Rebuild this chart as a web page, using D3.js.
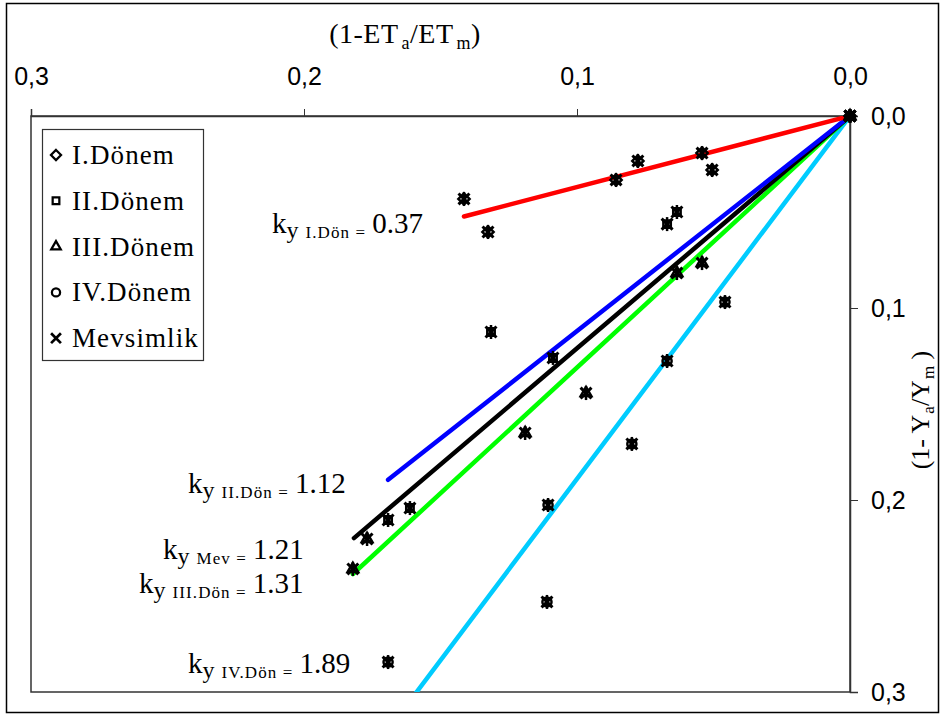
<!DOCTYPE html>
<html><head><meta charset="utf-8">
<script src="https://cdn.jsdelivr.net/npm/d3@7"></script>
<style>body{margin:0;background:#fff}svg{display:block}</style>
</head><body>
<script>
// ---- data ----
const xTicks = [0.3, 0.2, 0.1, 0.0];
const yTicks = [0.0, 0.1, 0.2, 0.3];
const xTickLabels = ["0,3", "0,2", "0,1", "0,0"];
const yTickLabels = ["0,0", "0,1", "0,2", "0,3"];

const seriesNames = ["I.Dönem", "II.Dönem", "III.Dönem", "IV.Dönem", "Mevsimlik"];

const donem1X = [0, 0.1414, 0.1326, 0.0857, 0.0777, 0.0542, 0.0505];
const donem1Y = [0, 0.0432, 0.0604, 0.0333, 0.0234, 0.0193, 0.0281];
const donem2X = [0, 0.0670, 0.0634, 0.1315, 0.1088, 0.1612, 0.1692];
const donem2Y = [0, 0.0563, 0.0500, 0.1125, 0.1260, 0.2042, 0.2104];
const donem3X = [0, 0.0634, 0.0542, 0.0967, 0.1190, 0.1769, 0.1821];
const donem3Y = [0, 0.0818, 0.0766, 0.1443, 0.1651, 0.2203, 0.2359];
const donem4X = [0, 0.0458, 0.0670, 0.0799, 0.1106, 0.1110, 0.1692];
const donem4Y = [0, 0.0969, 0.1276, 0.1708, 0.2026, 0.2531, 0.2844];
const mevsimX = [].concat(donem1X, donem2X, donem3X, donem4X);
const mevsimY = [].concat(donem1Y, donem2Y, donem3Y, donem4Y);

// regression lines (through origin): ky and x-extent
const lineNames = ["IV.Dön", "III.Dön", "Mev", "II.Dön", "I.Dön"];
const kyValues = [1.89, 1.31, 1.21, 1.12, 0.37];
const lineXEnd = [0.1692, 0.1821, 0.1817, 0.1692, 0.1414];
const lineColors = ["#00ccff", "#00ff00", "#000000", "#0000ff", "#ff0000"];

// ---- layout ----
const W = 942, H = 716;
const svg = d3.select("body").append("svg").attr("width", W).attr("height", H);
const serif = "'Liberation Serif','Times New Roman',serif";
const sans = "'Liberation Sans',Arial,sans-serif";

const x = d3.scaleLinear().domain([0.3, 0]).range([31, 850]);
const y = d3.scaleLinear().domain([0, 0.3]).range([116, 692]);

// outer frame
svg.append("rect").attr("x", 6.5).attr("y", 3.5).attr("width", 932).attr("height", 709)
  .attr("fill", "none").attr("stroke", "#000").attr("stroke-width", 1.5);

// plot frame
svg.append("rect").attr("x", x(0.3)).attr("y", y(0)).attr("width", x(0) - x(0.3)).attr("height", y(0.3) - y(0))
  .attr("fill", "none").attr("stroke", "#333").attr("stroke-width", 1.5);

// top axis
const topAxis = d3.axisTop(x).tickValues(xTicks).tickSize(7).tickFormat((d, i) => xTickLabels[i]);
const gTop = svg.append("g").attr("transform", `translate(0,${y(0)})`).call(topAxis);
gTop.select(".domain").attr("stroke", "#333").attr("stroke-width", 1.5);
gTop.selectAll(".tick line").attr("stroke", "#333").attr("stroke-width", 1);
gTop.selectAll(".tick text").attr("font-family", sans).attr("font-size", 25).attr("fill", "#000")
  .attr("y", -31);

// right axis
const rightAxis = d3.axisRight(y).tickValues(yTicks).tickSize(8).tickFormat((d, i) => yTickLabels[i]);
const gRight = svg.append("g").attr("transform", `translate(${x(0)},0)`).call(rightAxis);
gRight.select(".domain").attr("stroke", "#333").attr("stroke-width", 1.5);
gRight.selectAll(".tick line").attr("stroke", "#333").attr("stroke-width", 1);
gRight.selectAll(".tick text").attr("font-family", sans).attr("font-size", 25).attr("fill", "#000")
  .attr("x", 21);

// axis titles
const tTop = svg.append("text").attr("x", 405).attr("y", 43).attr("text-anchor", "middle")
  .attr("font-family", serif).attr("font-size", 28).attr("letter-spacing", 0.5).attr("fill", "#000");
tTop.append("tspan").text("(1-ET");
tTop.append("tspan").attr("font-size", 18).attr("dy", 6).attr("dx", 3).text("a");
tTop.append("tspan").attr("dy", -6).text("/ET");
tTop.append("tspan").attr("font-size", 18).attr("dy", 6).attr("dx", 3).text("m");
tTop.append("tspan").attr("dy", -6).text(")");

const tRight = svg.append("text").attr("transform", "translate(929,410) rotate(-90)")
  .attr("text-anchor", "middle").attr("font-family", serif).attr("font-size", 26).attr("fill", "#000");
tRight.append("tspan").text("(1- Y");
tRight.append("tspan").attr("font-size", 17).attr("dy", 5).attr("dx", 1).text("a");
tRight.append("tspan").attr("dy", -5).text("/Y");
tRight.append("tspan").attr("font-size", 17).attr("dy", 5).attr("dx", 1).text("m");
tRight.append("tspan").attr("dy", -5).text(" )");

// clip
svg.append("clipPath").attr("id", "clip").append("rect")
  .attr("x", x(0.3)).attr("y", y(0)).attr("width", x(0) - x(0.3)).attr("height", y(0.3) - y(0));

// regression lines
const lineGen = d3.line().x(d => x(d[0])).y(d => y(d[1]));
const gLines = svg.append("g").attr("clip-path", "url(#clip)");
kyValues.forEach((k, i) => {
  gLines.append("path")
    .attr("d", lineGen([[0, 0], [lineXEnd[i], k * lineXEnd[i]]]))
    .attr("stroke", lineColors[i]).attr("stroke-width", 4.5).attr("fill", "none")
    .attr("stroke-linecap", "round");
});

// markers
const sym = {
  diamond: d3.symbol().type(d3.symbolDiamond2).size(80),
  square: d3.symbol().type(d3.symbolSquare2).size(70),
  triangle: d3.symbol().type(d3.symbolTriangle2).size(80),
  circle: d3.symbol().type(d3.symbolCircle).size(65),
  star: d3.symbol().type(d3.symbolX).size(80)
};
const markerTypes = ["diamond", "square", "triangle", "circle", "star"];
const seriesX = [donem1X, donem2X, donem3X, donem4X, mevsimX];
const seriesY = [donem1Y, donem2Y, donem3Y, donem4Y, mevsimY];

function drawMarker(g, type, cx, cy, legend) {
  g.append("path").attr("d", sym[type]())
    .attr("transform", `translate(${cx},${cy})` + (legend ? " scale(0.9)" : ""))
    .attr("fill", "none").attr("stroke", "#000").attr("stroke-width", type === "star" ? 3 : 2.5);
  if (type === "star" && !legend) {
    g.append("line").attr("x1", cx).attr("x2", cx).attr("y1", cy - 7).attr("y2", cy + 7)
      .attr("stroke", "#000").attr("stroke-width", 2.5);
  }
}
const gPts = svg.append("g");
seriesX.forEach((xs, si) => {
  xs.forEach((xv, j) => {
    drawMarker(gPts, markerTypes[si], x(xv), y(seriesY[si][j]));
  });
});

// legend
const lg = svg.append("g");
lg.append("rect").attr("x", 42.5).attr("y", 129.5).attr("width", 161).attr("height", 231)
  .attr("fill", "#fff").attr("stroke", "#333").attr("stroke-width", 1.2);
seriesNames.forEach((n, i) => {
  const cy = 155 + i * 45.8;
  drawMarker(lg, markerTypes[i], 56, cy, true);
  lg.append("text").attr("x", 72).attr("y", cy + 9).attr("font-family", serif)
    .attr("font-size", 27).attr("letter-spacing", 1.1).attr("fill", "#000").text(n);
});

// ky annotations
const annotX = [188, 139, 163, 188, 272];
const annotY = [673, 593, 559, 493, 233];
lineNames.forEach((n, i) => {
  const t = svg.append("text").attr("x", annotX[i]).attr("y", annotY[i])
    .attr("font-family", serif).attr("font-size", 29).attr("fill", "#000");
  t.append("tspan").text("k");
  t.append("tspan").attr("font-size", 24).attr("dy", 5).text("y");
  t.append("tspan").attr("font-size", 17).attr("dx", 7).attr("letter-spacing", 1.1).text(n + " =");
  t.append("tspan").attr("dy", -5).attr("dx", 6).text(kyValues[i].toFixed(2));
});
</script>
</body></html>
